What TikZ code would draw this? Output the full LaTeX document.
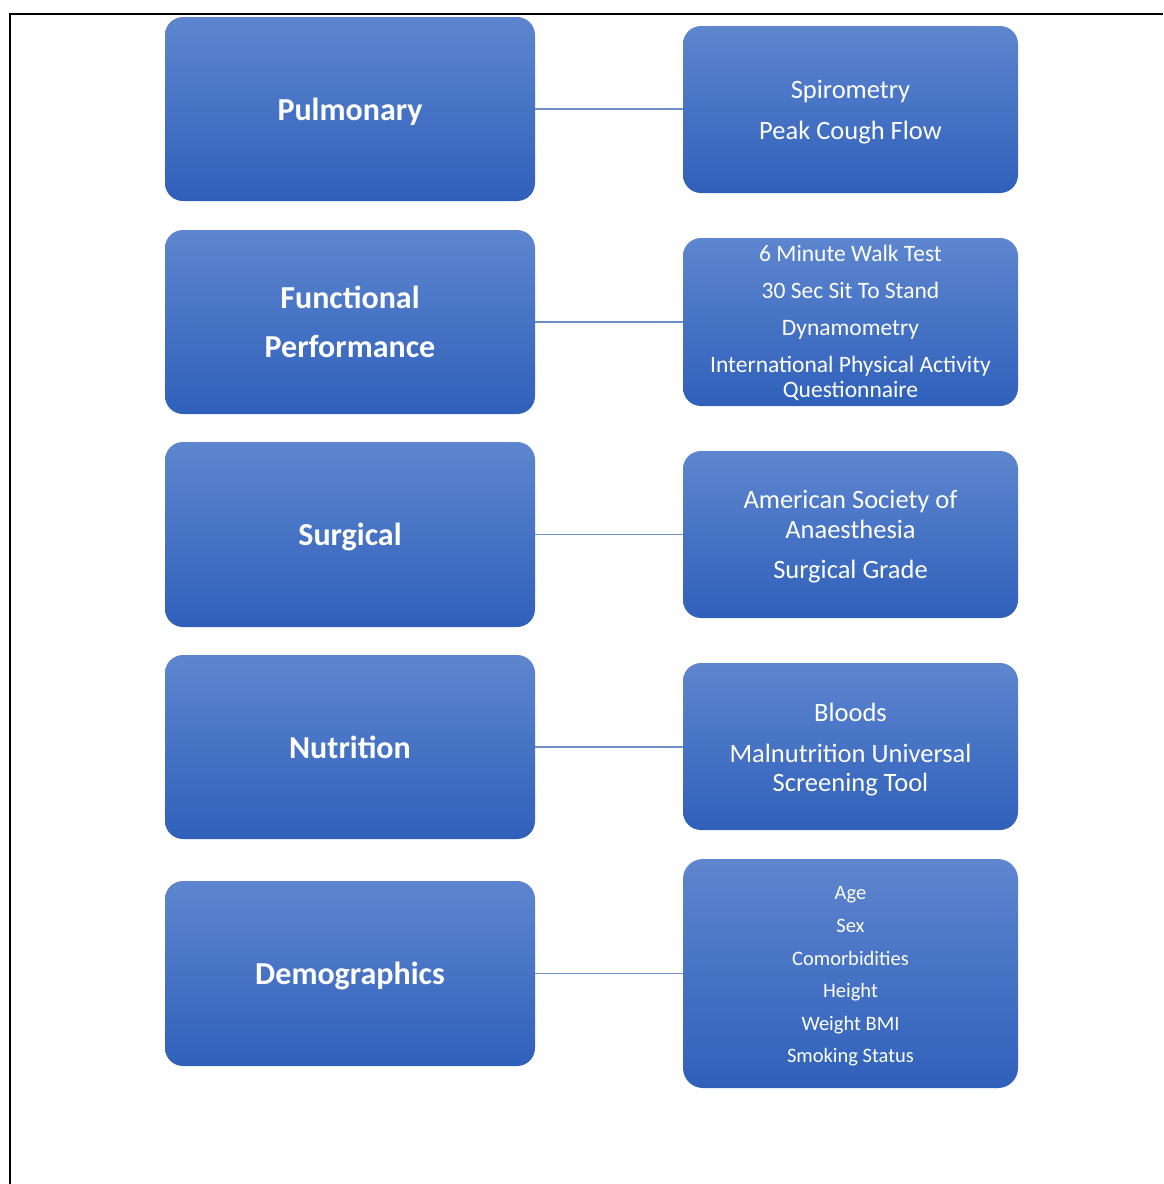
\documentclass[tikz,border=0pt]{standalone}
\usepackage{fontspec}
\setmainfont{Carlito}
\definecolor{gtop}{HTML}{5E86CF}
\definecolor{gmid}{HTML}{4472C4}
\definecolor{gbot}{HTML}{2F60BA}
\definecolor{conncol}{HTML}{6F8FC9}
\tikzset{
  box/.style={rounded corners=18pt, top color=gtop, middle color=gmid, bottom color=gbot,
    draw=none, inner sep=0pt, outer sep=0pt},
  leftbox/.style={box, minimum width=370pt, minimum height=184pt},
  rightbox/.style={box, minimum width=335pt, minimum height=167pt},
  lt/.style={text=white, align=center, inner sep=0pt, font=\fontsize{32}{49}\selectfont\bfseries},
  rt/.style={text=white, align=center, inner sep=0pt},
  conn/.style={draw=conncol, line width=1.3pt},
  frame/.style={draw=black, line width=2pt}
}
\begin{document}
\begin{tikzpicture}[x=1pt,y=-1pt]
\useasboundingbox (0,0) rectangle (1163,1184);
\coordinate (f0) at (1163,14);
\coordinate (f1) at (10,14);
\coordinate (f2) at (10,1184);
\draw[frame] (f0) -- (f1) -- (f2);

\node[leftbox, label={[lt, yshift=-3pt]center:Pulmonary}] (L1) at (350,109) {};
\node[leftbox, label={[lt, yshift=0pt]center:Functional\\Performance}] (L2) at (350,322) {};
\node[leftbox, minimum height=185pt, label={[lt, yshift=-2pt]center:Surgical}] (L3) at (350,534.5) {};
\node[leftbox, label={[lt, yshift=0pt]center:Nutrition}] (L4) at (350,747) {};
\node[leftbox, minimum height=185pt, label={[lt, yshift=-2pt]center:Demographics}] (L5) at (350,973.5) {};

\node[rightbox, label={[rt, yshift=-2.5pt, font=\fontsize{26.5}{41}\selectfont]center:Spirometry\\Peak Cough Flow}] (R1) at (850.5,109.5) {};
\node[rightbox, minimum height=168pt, label={[rt, yshift=-1pt, font=\fontsize{23.5}{25}\selectfont]center:6 Minute Walk Test\\[12pt]30 Sec Sit To Stand\\[12pt]Dynamometry\\[12pt]International Physical Activity\\Questionnaire}] (R2) at (850.5,322) {};
\node[rightbox, label={[rt, yshift=-2pt, font=\fontsize{26.5}{30}\selectfont]center:American Society of\\Anaesthesia\\[10pt]Surgical Grade}] (R3) at (850.5,534.5) {};
\node[rightbox, label={[rt, yshift=-3pt, font=\fontsize{26.5}{29}\selectfont]center:Bloods\\[12pt]Malnutrition Universal\\Screening Tool}] (R4) at (850.5,746.5) {};
\node[rightbox, rounded corners=20pt, minimum height=229pt, label={[rt, yshift=-3pt, font=\fontsize{20.5}{32.6}\selectfont]center:Age\\Sex\\Comorbidities\\Height\\Weight BMI\\Smoking Status}] (R5) at (850.5,973.5) {};

\draw[conn] (L1.east) -- (L1.east -| R1.west);
\draw[conn] (L2.east) -- (L2.east -| R2.west);
\draw[conn] (L3.east) -- (L3.east -| R3.west);
\draw[conn] (L4.east) -- (L4.east -| R4.west);
\draw[conn] (L5.east) -- (L5.east -| R5.west);
\end{tikzpicture}
\end{document}
